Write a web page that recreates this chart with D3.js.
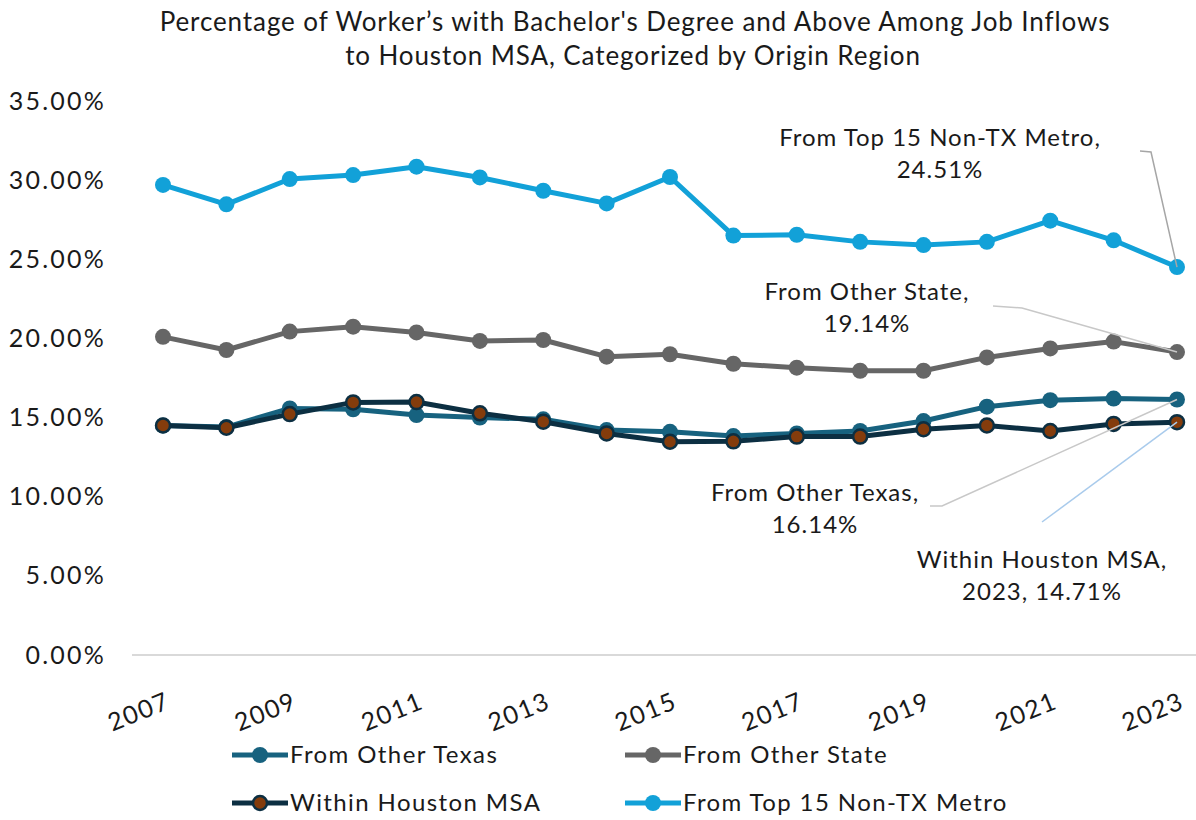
<!DOCTYPE html>
<html>
<head>
<meta charset="utf-8">
<script src="https://cdn.jsdelivr.net/npm/d3@7"></script>
<style>
  body { margin: 0; background: #fff; }
  text { font-family: Lato, "Open Sans", sans-serif; fill: #1a1a1a; }
</style>
</head>
<body>
<div id="chart"></div>
<script>
// years on the x axis, labels shown every other year
const years = d3.range(2007, 2024);
const tickYears = [2007, 2009, 2011, 2013, 2015, 2017, 2019, 2021, 2023];
const yTicks = [0, 5, 10, 15, 20, 25, 30, 35];

// values (percent)
const otherTexas = [14.50, 14.40, 15.58, 15.52, 15.16, 15.00, 14.89, 14.21, 14.10, 13.83, 14.00, 14.15, 14.78, 15.69, 16.10, 16.20, 16.14];
const otherState = [20.10, 19.27, 20.43, 20.74, 20.38, 19.84, 19.90, 18.85, 19.00, 18.40, 18.15, 17.96, 17.96, 18.80, 19.37, 19.80, 19.14];
const withinHouston = [14.50, 14.36, 15.22, 15.96, 15.98, 15.27, 14.74, 14.00, 13.47, 13.50, 13.80, 13.80, 14.26, 14.50, 14.15, 14.60, 14.71];
const top15 = [29.70, 28.47, 30.07, 30.32, 30.85, 30.17, 29.33, 28.53, 30.20, 26.50, 26.55, 26.10, 25.90, 26.10, 27.44, 26.20, 24.51];

const seriesNames = ['From Other Texas', 'From Other State', 'Within Houston MSA', 'From Top 15 Non-TX Metro'];

const series = [
    { name: seriesNames[3], values: top15, color: '#12a1d8', fill: '#12a1d8' },
    { name: seriesNames[1], values: otherState, color: '#666666', fill: '#666666' },
    { name: seriesNames[0], values: otherTexas, color: '#17627f', fill: '#17627f' },
    { name: seriesNames[2], values: withinHouston, color: '#0c2f42', fill: '#843c0c', stroke: '#0c2f42' }
];

const width = 1196, height = 820;
const x = d3.scaleLinear().domain([2007, 2023]).range([163, 1177]);
const y = d3.scaleLinear().domain([0, 35]).range([655, 101]);

const svg = d3.select('#chart').append('svg')
    .attr('width', width)
    .attr('height', height);

// title
svg.append('text')
    .attr('x', 635).attr('y', 31)
    .attr('text-anchor', 'middle')
    .attr('font-size', 26)
    .attr('letter-spacing', 0.9)
    .text('Percentage of Worker’s with Bachelor\'s Degree and Above Among Job Inflows');
svg.append('text')
    .attr('x', 633).attr('y', 65)
    .attr('text-anchor', 'middle')
    .attr('font-size', 26)
    .attr('letter-spacing', 0.9)
    .text('to Houston MSA, Categorized by Origin Region');

// y axis (labels only) and baseline
const yAxis = d3.axisLeft(y)
    .tickValues(yTicks)
    .tickSize(0)
    .tickPadding(0)
    .tickFormat(d => d3.format('.2f')(d) + '%');
const yG = svg.append('g')
    .attr('transform', 'translate(106,0)')
    .call(yAxis);
yG.select('.domain').remove();
yG.selectAll('text')
    .attr('font-size', 25)
    .attr('letter-spacing', 2.2)
    .attr('fill', '#1a1a1a');

svg.append('line')
    .attr('x1', 132).attr('x2', 1196)
    .attr('y1', y(0)).attr('y2', y(0))
    .attr('stroke', '#d9d9d9')
    .attr('stroke-width', 2);

// x axis, rotated labels
const xAxis = d3.axisBottom(x)
    .tickValues(tickYears)
    .tickSize(0)
    .tickFormat(d3.format('d'));
const xG = svg.append('g')
    .attr('transform', `translate(0,${y(0)})`)
    .call(xAxis);
xG.select('.domain').remove();
xG.selectAll('text')
    .attr('font-size', 25)
    .attr('letter-spacing', 1.5)
    .attr('fill', '#1a1a1a')
    .attr('text-anchor', 'end')
    .attr('dy', 0)
    .attr('transform', 'translate(7,50) rotate(-22)');

// lines
const line = d3.line()
    .x((d, i) => x(years[i]))
    .y(d => y(d));

series.forEach(s => {
    const g = svg.append('g');
    g.append('path')
        .datum(s.values)
        .attr('fill', 'none')
        .attr('stroke', s.color)
        .attr('stroke-width', 5)
        .attr('stroke-linejoin', 'round')
        .attr('d', line);
    g.selectAll('circle')
        .data(s.values)
        .join('circle')
        .attr('cx', (d, i) => x(years[i]))
        .attr('cy', d => y(d))
        .attr('r', s.stroke ? 7 : 8)
        .attr('fill', s.fill)
        .attr('stroke', s.stroke || 'none')
        .attr('stroke-width', 2.5);
});

// data labels for 2023 with leader lines
const last = years.length - 1;
const labels = [
    { lines: ['From Top 15 Non-TX Metro,', '24.51%'], cx: 940, y0: 146, value: top15[last],
      leader: [[1140, 151], [1151, 152]], color: '#a6a6a6' },
    { lines: ['From Other State,', '19.14%'], cx: 867, y0: 300, value: otherState[last],
      leader: [[993, 306], [1022, 308]], color: '#c8c8c8' },
    { lines: ['From Other Texas,', '16.14%'], cx: 815, y0: 501, value: otherTexas[last],
      leader: [[930, 506], [942, 506]], color: '#c8c8c8' },
    { lines: ['Within Houston MSA,', '2023, 14.71%'], cx: 1042, y0: 568, value: withinHouston[last],
      leader: [[1042, 522]], color: '#a9cbec' }
];

labels.forEach(l => {
    const pts = l.leader.concat([[x(2023), y(l.value)]]);
    svg.append('path')
        .attr('d', d3.line()(pts))
        .attr('fill', 'none')
        .attr('stroke', l.color)
        .attr('stroke-width', 1.5);
    l.lines.forEach((t, i) => {
        svg.append('text')
            .attr('x', l.cx).attr('y', l.y0 + i * 32)
            .attr('text-anchor', 'middle')
            .attr('font-size', 24)
            .attr('letter-spacing', 1)
            .text(t);
    });
});

// legend
const legendItems = [
    { name: seriesNames[0], s: series[2], lx: 232, ly: 755 },
    { name: seriesNames[1], s: series[1], lx: 625, ly: 755 },
    { name: seriesNames[2], s: series[3], lx: 232, ly: 803 },
    { name: seriesNames[3], s: series[0], lx: 625, ly: 803 }
];
const lg = svg.append('g');
legendItems.forEach(it => {
    lg.append('line')
        .attr('x1', it.lx).attr('x2', it.lx + 56)
        .attr('y1', it.ly).attr('y2', it.ly)
        .attr('stroke', it.s.color)
        .attr('stroke-width', 5);
    lg.append('circle')
        .attr('cx', it.lx + 28).attr('cy', it.ly)
        .attr('r', it.s.stroke ? 7 : 8)
        .attr('fill', it.s.fill)
        .attr('stroke', it.s.stroke || 'none')
        .attr('stroke-width', 2.5);
    lg.append('text')
        .attr('x', it.lx + 58).attr('y', it.ly + 8)
        .attr('font-size', 24)
        .attr('letter-spacing', 1.4)
        .text(it.name);
});
</script>
</body>
</html>
